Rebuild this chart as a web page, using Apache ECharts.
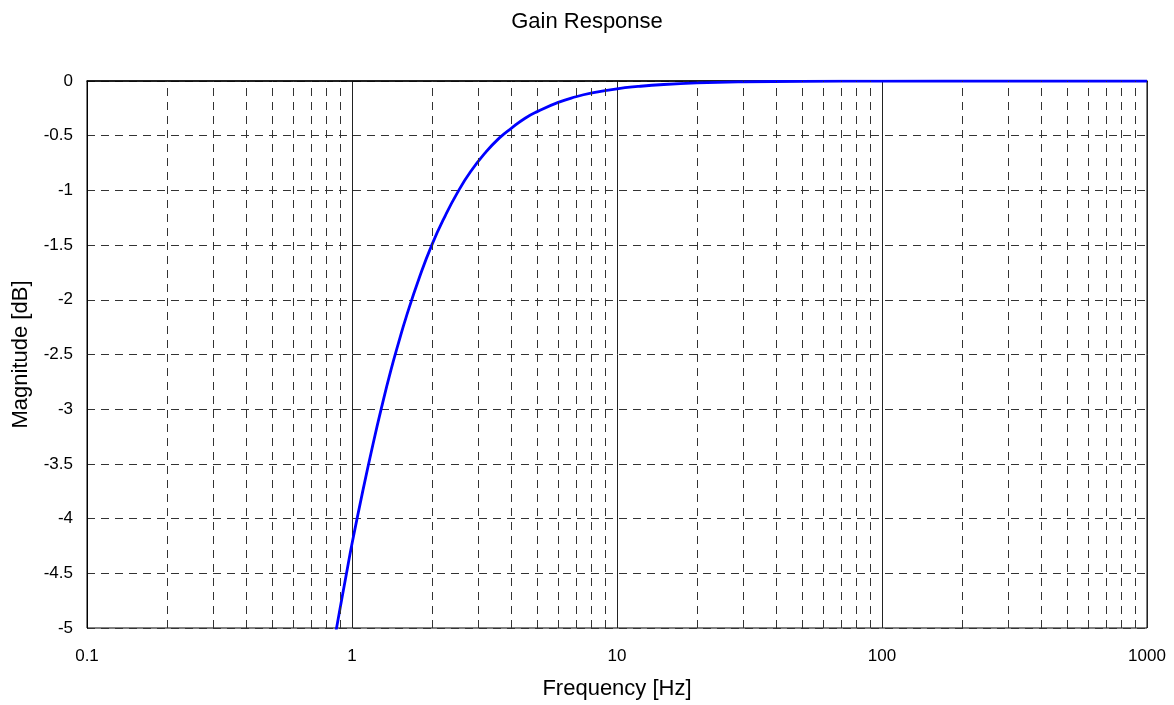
<!DOCTYPE html>
<html>
<head>
<meta charset="utf-8">
<script src="https://cdn.jsdelivr.net/npm/echarts@6/dist/echarts.min.js"></script>
<style>
  html, body { margin: 0; padding: 0; background: #fff; }
  #chart { width: 1174px; height: 705px; }
</style>
</head>
<body>
<div id="chart"></div>
<script>
// frequency points [Hz] and gain [dB]
var freqs = [0.87, 0.9, 0.95, 1.0, 1.1, 1.2, 1.3, 1.4, 1.5, 1.6, 1.8, 2.0, 2.25, 2.5, 2.8, 3.2, 3.6, 4.0, 4.5, 5, 6, 7, 8, 10, 12, 15, 20, 30, 50, 100, 300, 1000];
var gainDb = [-5.03, -4.83, -4.52, -4.23, -3.74, -3.32, -2.96, -2.65, -2.39, -2.16, -1.79, -1.50, -1.23, -1.02, -0.83, -0.65, -0.52, -0.43, -0.34, -0.28, -0.195, -0.144, -0.111, -0.071, -0.05, -0.032, -0.018, -0.008, -0.003, -0.001, 0, 0];

// dashed minor grid positions between decades
var minorFreqs = [0.2, 0.3, 0.4, 0.5, 0.6, 0.7, 0.8, 0.9,
                  2, 3, 4, 5, 6, 7, 8, 9,
                  20, 30, 40, 50, 60, 70, 80, 90,
                  200, 300, 400, 500, 600, 700, 800, 900];

var font = 'Liberation Sans, Arial, sans-serif';

var curve = [];
for (var i = 0; i < freqs.length; i++) {
  curve.push([freqs[i], gainDb[i]]);
}

var myChart = echarts.init(document.getElementById('chart'));

var option = {
  backgroundColor: '#fff',
  animation: false,
  title: {
    text: 'Gain Response',
    left: 'center',
    top: 6,
    textStyle: { fontFamily: font, fontSize: 22, fontWeight: 'normal', color: '#000' }
  },
  grid: {
    left: 87, right: 27, top: 81, bottom: 76,
    show: true,
    borderColor: '#000',
    borderWidth: 1,
    backgroundColor: '#fff'
  },
  xAxis: {
    type: 'log',
    logBase: 10,
    min: 0.1,
    max: 1000,
    name: 'Frequency [Hz]',
    nameLocation: 'middle',
    nameGap: 50,
    nameTextStyle: { fontFamily: font, fontSize: 22, color: '#000' },
    axisLine: { show: true, lineStyle: { color: '#000', width: 1.5 } },
    axisTick: { show: false },
    axisLabel: {
      fontFamily: font, fontSize: 17, color: '#000', margin: 20,
      formatter: function (v) { return String(v); }
    },
    splitLine: { show: true, lineStyle: { color: '#222', width: 1, type: 'solid' } }
  },
  yAxis: {
    type: 'value',
    min: -5,
    max: 0,
    interval: 0.5,
    name: 'Magnitude [dB]',
    nameLocation: 'middle',
    nameGap: 55,
    nameTextStyle: { fontFamily: font, fontSize: 22, color: '#000' },
    axisLine: { show: true, lineStyle: { color: '#000', width: 1 } },
    axisTick: { show: false },
    axisLabel: { fontFamily: font, fontSize: 17, color: '#000', margin: 14 },
    splitLine: { show: true, lineStyle: { color: '#333', width: 1, type: [8, 6] } }
  },
  series: [
    {
      name: 'minor grid',
      type: 'line',
      data: [],
      z: 1,
      silent: true,
      markLine: {
        silent: true,
        symbol: ['none', 'none'],
        label: { show: false },
        lineStyle: { color: '#333', width: 1, type: [8, 6] },
        data: minorFreqs.map(function (f) { return { xAxis: f }; })
      }
    },
    {
      name: 'Gain',
      type: 'line',
      z: 3,
      symbol: 'none',
      smooth: true,
      lineStyle: { color: '#0000ff', width: 2.8 },
      data: curve
    }
  ]
};

myChart.setOption(option);
</script>
</body>
</html>
